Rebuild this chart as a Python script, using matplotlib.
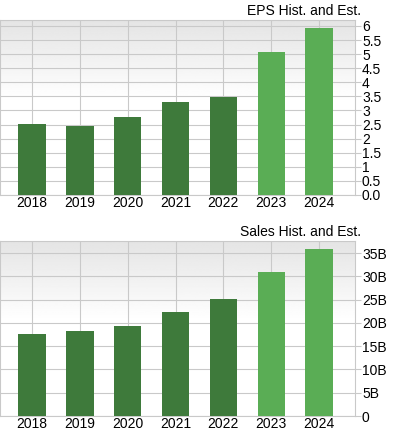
import matplotlib.pyplot as plt
import numpy as np

plt.switch_backend('agg')
plt.rcParams['font.family'] = ['Liberation Sans', 'DejaVu Sans']

years = ['2018', '2019', '2020', '2021', '2022', '2023', '2024']
eps = [2.52, 2.46, 2.76, 3.30, 3.46, 5.08, 5.92]
sales = [17.6, 18.2, 19.4, 22.4, 25.05, 31.0, 35.8]  # billions
is_estimate = [False, False, False, False, False, True, True]

eps_ticks = [0, 0.5, 1, 1.5, 2, 2.5, 3, 3.5, 4, 4.5, 5, 5.5, 6]
eps_tick_labels = ['0.0', '0.5', '1', '1.5', '2', '2.5', '3', '3.5', '4', '4.5', '5', '5.5', '6']
sales_ticks = [0, 5, 10, 15, 20, 25, 30, 35]
sales_tick_labels = ['0', '5B', '10B', '15B', '20B', '25B', '30B', '35B']

HIST_COLOR = '#3e7a3b'
EST_COLOR = '#5aad55'
GRID_COLOR = '#c9c9c9'

W, H = 394, 434
fig = plt.figure(figsize=(W / 100, H / 100), dpi=100)
fig.patch.set_facecolor('white')


def draw_panel(top_px, bottom_px, values, ymax, ticks, tick_labels, title):
    ax = fig.add_axes([0, (H - bottom_px) / H, 355 / W, (bottom_px - top_px) / H])
    x = np.arange(len(years))
    colors = [EST_COLOR if e else HIST_COLOR for e in is_estimate]

    # gradient background: light gray at top, white from just below the middle
    t = np.linspace(0, 1, 256)
    grad = (0.895 + 0.105 * np.clip(t / 0.45, 0, 1)).reshape(-1, 1)
    ax.imshow(grad, extent=[0, 1, 0, 1], transform=ax.transAxes, cmap='gray',
              vmin=0, vmax=1, aspect='auto', zorder=0)

    ax.bar(x, values, width=0.57, color=colors, zorder=3)
    ax.set_xlim(-0.67, 6.75)
    ax.set_ylim(0, ymax)

    ax.set_xticks(x)
    ax.set_xticklabels(years, fontsize=10)
    ax.tick_params(axis='x', length=0, pad=1)
    ax.yaxis.tick_right()
    ax.set_yticks(ticks)
    ax.set_yticklabels(tick_labels, fontsize=10)
    ax.tick_params(axis='y', length=4, color=GRID_COLOR, pad=1)

    ax.grid(True, color=GRID_COLOR, linewidth=0.8, zorder=1)
    ax.set_axisbelow(True)
    for side in ['top', 'right', 'bottom', 'left']:
        ax.spines[side].set_color(GRID_COLOR)
        ax.spines[side].set_linewidth(0.8)

    fig.text(361 / W, 1 - (top_px - 9) / H, title, ha='right', va='center', fontsize=10)
    return ax


draw_panel(20, 195, eps, 6.21, eps_ticks, eps_tick_labels, 'EPS Hist. and Est.')
draw_panel(241, 416, sales, 37.6, sales_ticks, sales_tick_labels, 'Sales Hist. and Est.')

plt.savefig('out.png', dpi=100)
plt.close()
